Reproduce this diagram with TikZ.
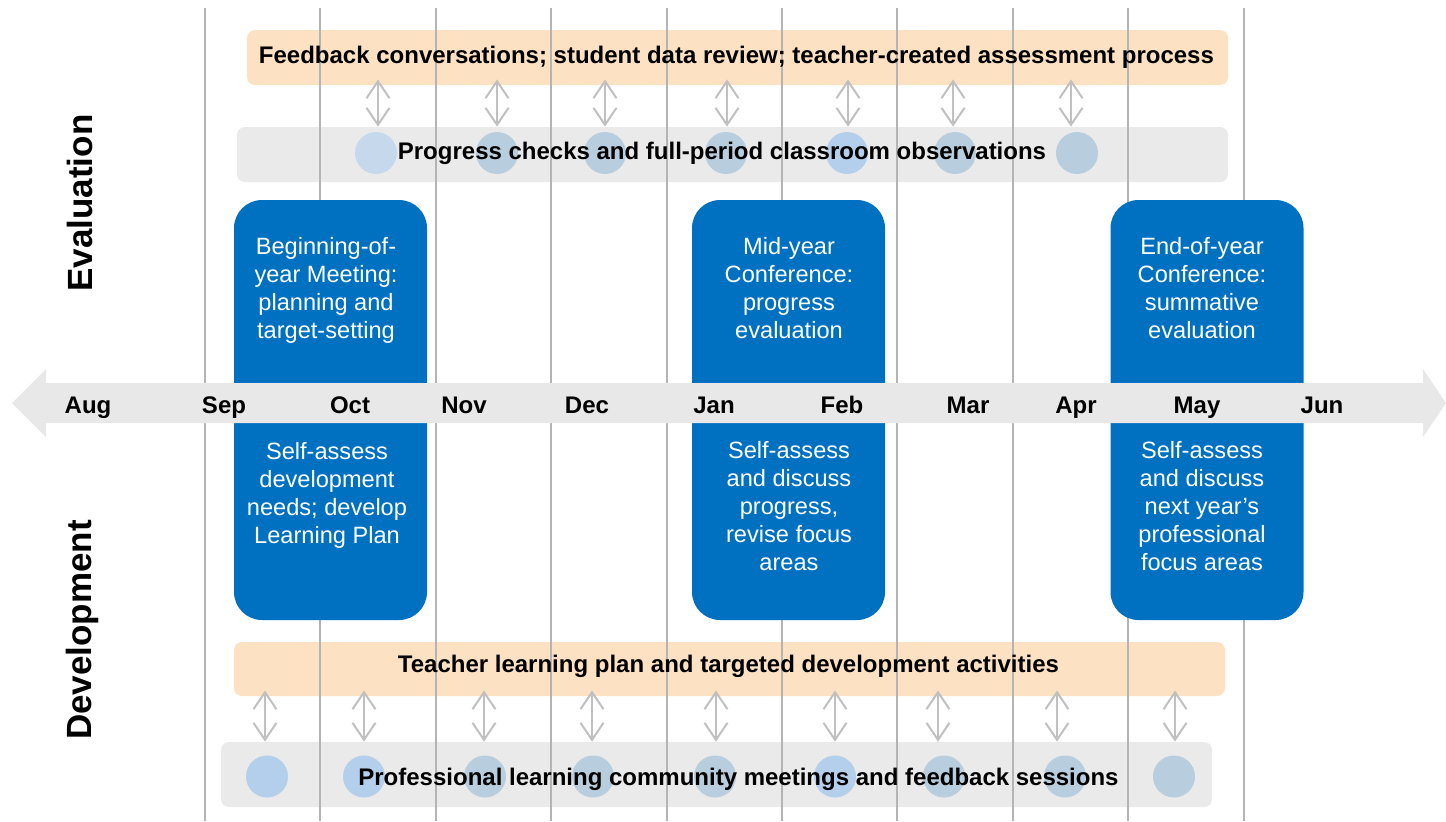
\documentclass[tikz,border=0pt]{standalone}
\usepackage{fontspec}
\setmainfont{Liberation Sans}
\usetikzlibrary{arrows.meta, positioning}

\definecolor{peach}{HTML}{FDE1C3}
\definecolor{panelgrey}{HTML}{EAEAEA}
\definecolor{timegrey}{HTML}{E8E8E8}
\definecolor{phaseblue}{HTML}{0070C0}
\definecolor{monthgrey}{HTML}{B4B4B4}
\definecolor{linkgrey}{HTML}{C0C0C0}
\definecolor{dotblue}{HTML}{B4CFEB}
\definecolor{dotpale}{HTML}{C6D9EC}
\definecolor{dotgrey}{HTML}{B8CDDD}

\tikzset{
    month line/.style={draw=monthgrey, line width=1pt}, % vertical separators between months
    band/.style={rounded corners=4pt, inner sep=0pt, minimum height=27.5pt},
    band text/.style={font=\bfseries\fontsize{12}{14}\selectfont, anchor=base, inner sep=0pt},
    phase/.style={fill=phaseblue, rounded corners=14pt, minimum width=96.5pt, minimum height=210pt, inner sep=0pt},
    phase text/.style={text=white, font=\fontsize{11.8}{14}\selectfont, align=center, inner sep=0pt},
    month/.style={font=\bfseries\fontsize{12}{14}\selectfont, anchor=base, inner sep=0pt},
    side/.style={font=\bfseries\fontsize{17.5}{20}\selectfont, rotate=90, inner sep=0pt},
    meeting/.style={circle, minimum size=21pt, inner sep=0pt}, % the round markers on the grey bands
    link/.style={draw=linkgrey, line width=1pt, >={Straight Barb[length=8.5pt,width=11.5pt]}, <->},
}

\begin{document}
\begin{tikzpicture}[x=0.5pt, y=-0.5pt]
    \useasboundingbox (0,0) rectangle (1446,821);

    % bands
    \node[band, fill=peach, minimum width=490.5pt] (fb) at (737.5,57.5) {};
    \node[band, fill=panelgrey, minimum width=495.5pt] (pc) at (732.5,154.5) {};
    \node[band, fill=peach, minimum width=495.5pt, minimum height=27pt] (tl) at (729.5,669) {};
    \node[band, fill=panelgrey, minimum width=495.5pt, minimum height=32.5pt] (pl) at (716.5,774.5) {};

    % month separators
    \foreach \i in {0,...,9}
        \draw[month line] (205+115.4*\i,8) -- (205+115.4*\i,821);

    % evaluation: check-ins
    \foreach \dx/\ax/\col [count=\i] in {376/378/dotpale, 497/497/dotgrey, 605/605/dotgrey, 726/727/dotgrey,
                                         847/848/dotblue, 955/953/dotgrey, 1077/1071/dotgrey} {
        \node[meeting, fill=\col] (e\i) at (\dx,153) {};
        \coordinate (ea\i) at (\ax,153);
        \draw[link] ([yshift=3pt]fb.south -| ea\i) -- (pc.north -| ea\i);
    }

    % development: check-ins
    \foreach \dx/\ax/\col [count=\i] in {267/265/dotblue, 364/364/dotblue, 485/484/dotgrey, 593/592/dotgrey,
                                         715/716/dotgrey, 835/835/dotblue, 944/938/dotgrey, 1065/1057/dotgrey, 1174/1175/dotgrey} {
        \node[meeting, fill=\col] (d\i) at (\dx,776.5) {};
        \coordinate (da\i) at (\ax,776.5);
        \draw[link] ([yshift=3pt]tl.south -| da\i) -- (pl.north -| da\i);
    }

    \node[band text] (fbt) at (736.5,63.5) {Feedback conversations; student data review; teacher-created assessment process};
    \node[band text] (pct) at (722,159) {Progress checks and full-period classroom observations};
    \node[band text] (tlt) at (728.5,672) {Teacher learning plan and targeted development activities};
    \node[band text] (plt) at (738.5,785) {Professional learning community meetings and feedback sessions};

    % the three conferences
    \node[phase] (boy) at (330.5,410) {};
    \node[phase] (myc) at (788.5,410) {};
    \node[phase] (eoy) at (1207,410) {};

    % timeline
    \fill[timegrey] (12,403) -- (46,369) -- (46,383) -- (1423,383) -- (1423,369) -- (1446,403)
        -- (1423,437) -- (1423,423) -- (46,423) -- (46,437) -- cycle;
    \foreach \m/\x in {Aug/88, Sep/224, Oct/350, Nov/464, Dec/587, Jan/714, Feb/842, Mar/968, Apr/1076, May/1197, Jun/1322}
        \node[month] (m\m) at (\x,413) {\m};

    \node[phase text] (boyt) at (326,290.5) {Beginning-of-\\year Meeting:\\planning and\\target-setting};
    \node[phase text] (boyb) at (327,495) {Self-assess\\development\\needs; develop\\Learning Plan};
    \node[phase text] (myct) at (789,288) {Mid-year\\Conference:\\progress\\evaluation};
    \node[phase text] (mycb) at (789,506.5) {Self-assess\\and discuss\\progress,\\revise focus\\areas};
    \node[phase text] (eoyt) at (1202,288) {End-of-year\\Conference:\\summative\\evaluation};
    \node[phase text] (eoyb) at (1202,506.5) {Self-assess\\and discuss\\next year’s\\professional\\focus areas};

    \node[side] (evl) at (80,203) {Evaluation};
    \node[side] (dvl) at (82,630) {Development};
\end{tikzpicture}
\end{document}
